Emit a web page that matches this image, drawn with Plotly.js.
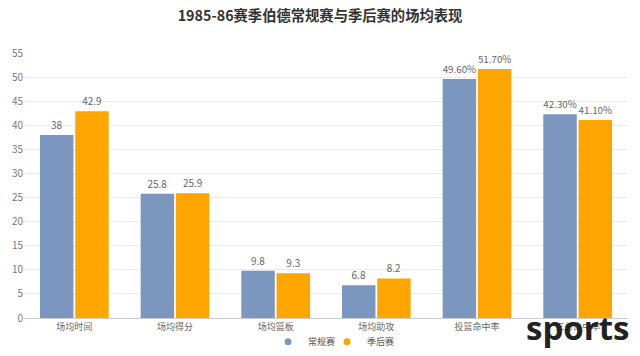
<!DOCTYPE html>
<html><head><meta charset="utf-8">
<script src="https://cdn.plot.ly/plotly-3.0.1.min.js"></script>
<style>html,body{margin:0;padding:0;background:#fff}#chart{width:640px;height:356px}</style>
</head><body><div id="chart"></div>
<script>
const categories = ['场均时间','场均得分','场均篮板','场均助攻','投篮命中率','三分命中率'];
const regular = [38, 25.8, 9.8, 6.8, 49.6, 42.3];
const playoff = [42.9, 25.9, 9.3, 8.2, 51.7, 41.1];
const regularText = ['38','25.8','9.8','6.8','49.60%','42.30%'];
const playoffText = ['42.9','25.9','9.3','8.2','51.70%','41.10%'];
const seriesNames = ['常规赛','季后赛'];
const colors = ['#7b97c0','#ffa500'];
const font = '"Noto Sans CJK SC", "Noto Sans", sans-serif';

const traces = [
  {type:'bar', x:categories, y:regular, text:regularText, name:seriesNames[0], showlegend:false,
   marker:{color:colors[0]}, textposition:'outside', cliponaxis:false,
   textfont:{color:'#666', size:10, family:font}, hoverinfo:'x+y'},
  {type:'bar', x:categories, y:playoff, text:playoffText, name:seriesNames[1], showlegend:false,
   marker:{color:colors[1]}, textposition:'outside', cliponaxis:false,
   textfont:{color:'#666', size:10, family:font}, hoverinfo:'x+y'},
  {type:'scatter', mode:'markers', x:[null], y:[null], name:seriesNames[0], marker:{color:colors[0], size:7, symbol:'circle'}},
  {type:'scatter', mode:'markers', x:[null], y:[null], name:seriesNames[1], marker:{color:colors[1], size:7, symbol:'circle'}},
  {type:'scatter', mode:'markers', x:[null], y:[null], name:' ', marker:{color:'rgba(0,0,0,0)', size:1}, hoverinfo:'skip'}
];

const layout = {
  width:640, height:356,
  margin:{l:24, r:12, t:53, b:38, autoexpand:false},
  paper_bgcolor:'#fff', plot_bgcolor:'#fff',
  font:{family:font, color:'#666', size:10},
  title:{text:'1985-86赛季伯德常规赛与季后赛的场均表现', x:0.5, xanchor:'center', y:0.97, yanchor:'top',
         font:{family:font, size:14.3, color:'#333', weight:'bold'}},
  barmode:'group', bargap:0.3, bargroupgap:0.05,
  xaxis:{type:'category', showgrid:false, showline:true, linecolor:'#ccc', linewidth:1,
         ticks:'', tickfont:{size:9, color:'#666'}, fixedrange:true},
  yaxis:{range:[0,55], dtick:5, showgrid:true, gridcolor:'#ebebeb', zeroline:false,
         showline:false, tickfont:{size:10, color:'#777'}, ticklen:0, fixedrange:true},
  legend:{orientation:'h', x:0.404, xanchor:'left', y:-0.09, yanchor:'middle', bgcolor:'rgba(0,0,0,0)',
          font:{size:9, color:'#555'}, itemwidth:30, entrywidth:14, tracegroupgap:0},
  annotations:[{text:'<b>sports</b>', xref:'paper', yref:'paper', x:1.005, xanchor:'right', y:-0.035, yanchor:'middle',
                showarrow:false, font:{family:'"Open Sans", "DejaVu Sans", sans-serif', size:33, color:'#222'}}]
};
Plotly.newPlot('chart', traces, layout, {displayModeBar:false, staticPlot:true});
</script></body></html>
